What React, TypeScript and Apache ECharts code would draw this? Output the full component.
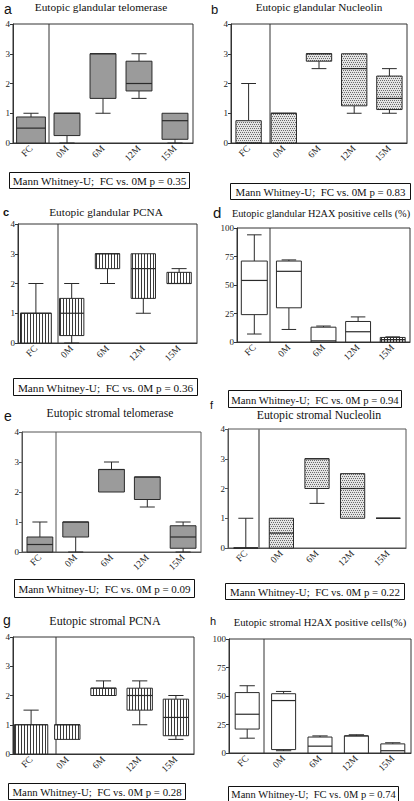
import React, { useEffect, useRef } from "react";
import * as echarts from "echarts";

const categories = ["FC", "0M", "6M", "12M", "15M"];

// each row: [min, Q1, median, Q3, max]
const glandTelomerase = [[0, 0, 0.5, 0.875, 1], [0, 0.25, 1, 1, 1], [1, 1.5, 3, 3, 3], [1.5, 1.75, 2, 2.75, 3], [0, 0.125, 0.75, 1, 1]];
const glandNucleolin = [[0, 0, 0, 0.75, 2], [0, 0, 1, 1, 1], [2.5, 2.75, 3, 3, 3], [1, 1.25, 2.5, 3, 3], [1, 1.125, 1.5, 2.25, 2.5]];
const glandPCNA = [[0, 0, 1, 1, 2], [0, 0.25, 1, 1.5, 2], [2, 2.5, 3, 3, 3], [1, 1.5, 2.5, 3, 3], [2, 2, 2, 2.375, 2.5]];
const glandH2AX = [[7, 24, 54, 71, 94], [11, 30, 62, 71, 72], [0, 0, 1, 13, 14], [0, 0, 9, 18, 22], [0, 0, 2, 4, 4.5]];
const stromaTelomerase = [[0, 0, 0.25, 0.5, 1], [0, 0.5, 1, 1, 1], [2, 2, 2.75, 2.75, 3], [1.5, 1.75, 2.5, 2.5, 2.5], [0, 0.125, 0.5, 0.875, 1]];
const stromaNucleolin = [[0, 0, 0, 0, 1], [0, 0, 0.5, 1, 1], [1.5, 2, 3, 3, 3], [1, 1, 2, 2.5, 2.5], [1, 1, 1, 1, 1]];
const stromaPCNA = [[0, 0, 1, 1, 1.5], [0.5, 0.5, 1, 1, 1], [2, 2, 2.25, 2.25, 2.5], [1, 1.5, 2, 2.25, 2.5], [0.5, 0.625, 1.25, 1.875, 2]];
const stromaH2AX = [[13, 21, 34, 53, 59], [2, 3, 46, 52, 54], [0, 0, 6, 14, 15], [0, 0, 15, 15, 16], [0, 0, 2, 8, 9]];

const panelData = [glandTelomerase, glandNucleolin, glandPCNA, glandH2AX, stromaTelomerase, stromaNucleolin, stromaPCNA, stromaH2AX];
const titles = [
  "Eutopic glandular telomerase",
  "Eutopic glandular Nucleolin",
  "Eutopic glandular PCNA",
  "Eutopic glandular H2AX positive cells (%)",
  "Eutopic stromal telomerase",
  "Eutopic stromal Nucleolin",
  "Eutopic stromal PCNA",
  "Eutopic stromal H2AX positive cells(%)",
];
const letters = ["a", "b", "c", "d", "e", "f", "g", "h"];
const pValues = ["0.35", "0.83", "0.36", "0.94", "0.09", "0.22", "0.28", "0.74"];
const scoreAxis = { min: 0, max: 4, interval: 1 };
const percentAxis = { min: 0, max: 100, interval: 25 };
const panelAxes = [scoreAxis, scoreAxis, scoreAxis, percentAxis, scoreAxis, scoreAxis, scoreAxis, percentAxis];

// layout (pixels); ts = title font size, ss = stat font size, box/fcBox = box width ratios
const layouts = [
  { gx: 13, gy: 24, gw: 180, gh: 119, sep: 49, lx: 4, ly: 9, ls: 14, tx: 101, ty: 7, ts: 11.3, bx: 9, by: 172, bw: 180, bh: 16, ss: 11.1, box: 0.72, fcBox: 0.8 },
  { gx: 231, gy: 24, gw: 176, gh: 119, sep: 270, lx: 211, ly: 9, ls: 13, tx: 319, ty: 7, ts: 11.2, bx: 230, by: 183, bw: 180, bh: 16, ss: 10.85, box: 0.72, fcBox: 0.72 },
  { gx: 18, gy: 224, gw: 179, gh: 119, sep: 58, lx: 3, ly: 212, ls: 11, tx: 106, ty: 212, ts: 11.3, bx: 13, by: 378, bw: 184, bh: 17, ss: 11.2, box: 0.68, fcBox: 0.86 },
  { gx: 237, gy: 228, gw: 173, gh: 114, sep: 270, lx: 213, ly: 212, ls: 15, tx: 321, ty: 213, ts: 10.3, bx: 228, by: 390, bw: 173, bh: 17, ss: 10.7, box: 0.72, fcBox: 0.75 },
  { gx: 22, gy: 432, gw: 179, gh: 120, sep: 56, lx: 4, ly: 416, ls: 14, tx: 110, ty: 413, ts: 11.6, bx: 14, by: 579, bw: 180, bh: 18, ss: 11.0, box: 0.72, fcBox: 0.72 },
  { gx: 228, gy: 429, gw: 178, gh: 119, sep: 259, lx: 210, ly: 405, ls: 11, tx: 319, ty: 415, ts: 11.8, bx: 225, by: 583, bw: 179, bh: 16, ss: 10.85, box: 0.68, fcBox: 0.68 },
  { gx: 13, gy: 637, gw: 181, gh: 117, sep: 56, lx: 3, ly: 620, ls: 14, tx: 105, ty: 621, ts: 12, bx: 8, by: 783, bw: 177, bh: 16, ss: 10.8, box: 0.7, fcBox: 0.92 },
  { gx: 229, gy: 639, gw: 182, gh: 114, sep: 264, lx: 210, ly: 621, ls: 11, tx: 320, ty: 622, ts: 10.6, bx: 228, by: 786, bw: 170, bh: 15, ss: 10.5, box: 0.66, fcBox: 0.66 },
];

const SERIF = "'Liberation Serif', 'Times New Roman', serif";
const SANS = "'Liberation Sans', Arial, sans-serif";

function makePattern(w: number, h: number, draw: (ctx: CanvasRenderingContext2D) => void) {
  const c = document.createElement("canvas");
  c.width = w;
  c.height = h;
  const ctx = c.getContext("2d")!;
  draw(ctx);
  return { image: c, repeat: "repeat", imageWidth: w, imageHeight: h } as any;
}

export default function App() {
  const ref = useRef<HTMLDivElement>(null);
  useEffect(() => {
    if (!ref.current) return;
    const chart = echarts.init(ref.current, undefined, { renderer: "svg" });

    const solidGray = "#9b9b9b";
    const stipple = makePattern(4, 4, (ctx) => {
      ctx.fillStyle = "#e4e4e4";
      ctx.fillRect(0, 0, 4, 4);
      ctx.fillStyle = "#6a6a6a";
      ctx.fillRect(0, 0, 1, 1);
      ctx.fillRect(2, 0, 1, 1);
      ctx.fillRect(1, 2, 1, 1);
      ctx.fillRect(3, 2, 1, 1);
    });
    const stripes = makePattern(3, 3, (ctx) => {
      ctx.fillStyle = "#ffffff";
      ctx.fillRect(0, 0, 3, 3);
      ctx.fillStyle = "#3a3a3a";
      ctx.fillRect(0, 0, 1, 3);
    });
    const checks = makePattern(3, 3, (ctx) => {
      ctx.fillStyle = "#ffffff";
      ctx.fillRect(0, 0, 3, 3);
      ctx.fillStyle = "#333333";
      ctx.fillRect(0, 0, 1, 3);
      ctx.fillRect(0, 0, 3, 1);
    });
    const allSame = (f: any) => [f, f, f, f, f];
    const panelFills = [
      allSame(solidGray),
      allSame(stipple),
      allSame(stripes),
      ["#fff", "#fff", "#fff", "#fff", checks],
      allSame(solidGray),
      allSame(stipple),
      allSame(stripes),
      allSame("#fff"),
    ];

    const grids: any[] = [];
    const xAxes: any[] = [];
    const yAxes: any[] = [];
    const series: any[] = [];
    const graphics: any[] = [];

    layouts.forEach((L, p) => {
      const frameColor = p === 4 || p === 5 ? "#555" : "#333";
      grids.push({
        left: L.gx,
        top: L.gy,
        width: L.gw,
        height: L.gh,
        show: true,
        borderColor: frameColor,
        borderWidth: 1,
        backgroundColor: "transparent",
        containLabel: false,
        outerBoundsMode: "none",
      });
      xAxes.push({
        type: "category",
        gridIndex: p,
        data: categories,
        boundaryGap: true,
        axisLine: { show: true, lineStyle: { color: frameColor, width: 1 } },
        axisTick: { show: false },
        axisLabel: { rotate: 45, fontSize: 9.5, fontFamily: SERIF, color: "#222", margin: 4 },
        splitLine: { show: false },
      });
      const ax = panelAxes[p];
      yAxes.push({
        type: "value",
        gridIndex: p,
        min: ax.min,
        max: ax.max,
        interval: ax.interval,
        axisLine: { show: true, lineStyle: { color: frameColor, width: 1 } },
        axisTick: { show: true, length: 3, lineStyle: { color: frameColor } },
        axisLabel: { fontSize: 9, fontFamily: SERIF, color: "#222", margin: 3 },
        splitLine: { show: false },
      });
      const fills = panelFills[p];
      series.push({
        type: "custom",
        xAxisIndex: p,
        yAxisIndex: p,
        encode: { x: 0, y: [1, 2, 3, 4, 5] },
        data: panelData[p].map((row, i) => [i, ...row]),
        renderItem: (params: any, api: any) => {
          const idx = api.value(0);
          const mn = api.value(1);
          const q1 = api.value(2);
          const md = api.value(3);
          const q3 = api.value(4);
          const mx = api.value(5);
          const band = api.size([1, 0])[0];
          const ratio = idx === 0 ? L.fcBox : L.box;
          const bw = band * ratio;
          const cw = band * 0.42;
          const cx = api.coord([idx, 0])[0];
          const Y = (v: number) => api.coord([idx, v])[1];
          const stroke = { stroke: "#2a2a2a", lineWidth: 1, fill: "none" };
          const children: any[] = [];
          if (mx > q3) {
            children.push({ type: "line", shape: { x1: cx, y1: Y(q3), x2: cx, y2: Y(mx) }, style: stroke });
            children.push({ type: "line", shape: { x1: cx - cw / 2, y1: Y(mx), x2: cx + cw / 2, y2: Y(mx) }, style: stroke });
          }
          if (mn < q1) {
            children.push({ type: "line", shape: { x1: cx, y1: Y(q1), x2: cx, y2: Y(mn) }, style: stroke });
            children.push({ type: "line", shape: { x1: cx - cw / 2, y1: Y(mn), x2: cx + cw / 2, y2: Y(mn) }, style: stroke });
          }
          const x0 = cx - bw / 2;
          const x1 = cx + bw / 2;
          children.push({
            type: "polygon",
            shape: { points: [[x0, Y(q3)], [x1, Y(q3)], [x1, Y(q1)], [x0, Y(q1)]] },
            style: { fill: fills[idx], stroke: "#2a2a2a", lineWidth: 1 },
          });
          children.push({ type: "line", shape: { x1: x0, y1: Y(md), x2: x1, y2: Y(md) }, style: { stroke: "#2a2a2a", lineWidth: 1.2 } });
          return { type: "group", children };
        },
      });

      // separator between FC and the treatment groups
      graphics.push({
        type: "line",
        shape: { x1: L.sep, y1: L.gy, x2: L.sep, y2: L.gy + L.gh },
        style: { stroke: p === 5 ? "#777" : frameColor, lineWidth: p === 5 ? 1.6 : 1 },
        silent: true,
      });
      graphics.push({
        type: "text",
        x: L.lx,
        y: L.ly,
        style: { text: letters[p], font: `${p === 2 ? "bold " : ""}${L.ls}px ${SANS}`, fill: "#111", align: "left", verticalAlign: "middle" },
      });
      graphics.push({
        type: "text",
        x: L.tx,
        y: L.ty,
        style: { text: titles[p], font: `${L.ts}px ${SERIF}`, fill: "#111", align: "center", verticalAlign: "middle" },
      });
      graphics.push({
        type: "rect",
        shape: { x: L.bx + 0.5, y: L.by + 0.5, width: L.bw, height: L.bh },
        style: { fill: "#fff", stroke: "#111", lineWidth: 1 },
      });
      graphics.push({
        type: "text",
        x: L.bx + L.bw / 2 + 0.5,
        y: L.by + L.bh / 2 + 1,
        style: {
          text: `Mann Whitney-U;  FC vs. 0M p = ${pValues[p]}`,
          font: `${L.ss}px ${SERIF}`,
          fill: "#111",
          align: "center",
          verticalAlign: "middle",
        },
      });
    });

    chart.setOption({
      animation: false,
      backgroundColor: "#fff",
      grid: grids,
      xAxis: xAxes,
      yAxis: yAxes,
      series,
      graphic: graphics,
    });
    return () => chart.dispose();
  }, []);
  return <div ref={ref} style={{ position: "fixed", left: 0, top: 0, width: 414, height: 801 }} />;
}
